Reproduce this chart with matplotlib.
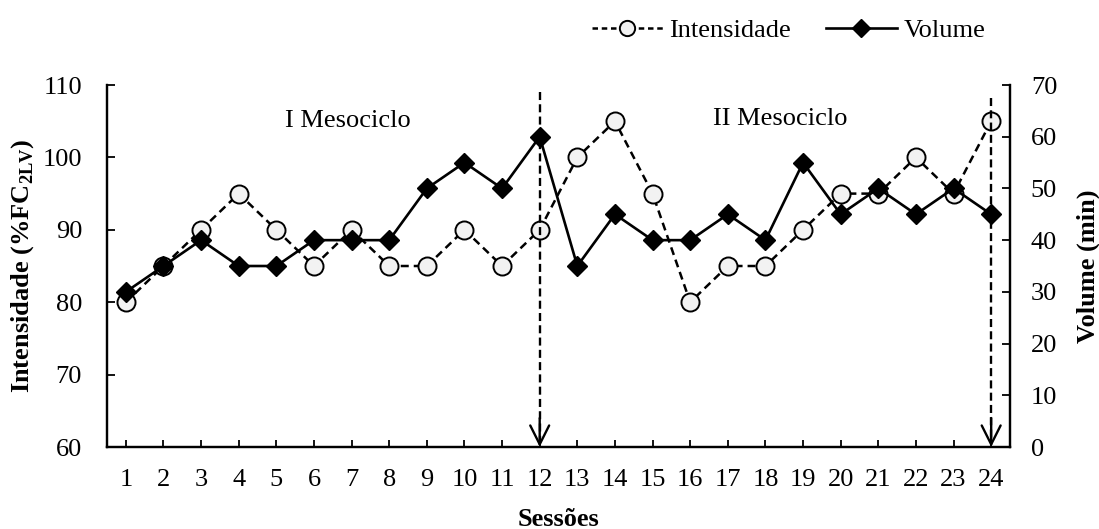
import matplotlib
matplotlib.use('Agg')
import matplotlib.pyplot as plt
from matplotlib.lines import Line2D

plt.rcParams['font.family'] = ['Liberation Serif', 'DejaVu Serif']
plt.rcParams['mathtext.fontset'] = 'custom'
plt.rcParams['mathtext.rm'] = 'Liberation Serif'
plt.rcParams['mathtext.bf'] = 'Liberation Serif:bold'

# Data
sessoes = list(range(1, 25))
intensidade = [80, 85, 90, 95, 90, 85, 90, 85, 85, 90, 85, 90,
               100, 105, 95, 80, 85, 85, 90, 95, 95, 100, 95, 105]
volume = [30, 35, 40, 35, 35, 40, 40, 40, 50, 55, 50, 60,
          35, 45, 40, 40, 45, 40, 55, 45, 50, 45, 50, 45]
fim_mesociclo = [12, 24]
topo_seta = [109.0, 108.2]
mesociclos = ['I Mesociclo', 'II Mesociclo']
pos_mesociclo = [(6.9, 105.0), (18.4, 105.3)]

FS = 19

fig = plt.figure(figsize=(10.99, 5.29), dpi=100)
ax = fig.add_axes([0.0974, 0.155, 0.8216, 0.6843])
ax2 = ax.twinx()

ax.plot(sessoes, intensidade, linestyle=(0, (3.2, 2)), color='black', lw=1.8,
        marker='o', ms=13, mfc='#f2f2f2', mec='black', mew=1.4, zorder=3)
ax2.plot(sessoes, volume, linestyle='-', color='black', lw=1.9,
         marker='D', ms=10, mfc='black', mec='black', zorder=3)

# dashed arrows marking the end of each mesocycle
for xs, top in zip(fim_mesociclo, topo_seta):
    ax.plot([xs, xs], [top, 60.5], color='black', lw=1.7,
            linestyle=(0, (3.4, 1.8)), zorder=4)
    ax.annotate('', xy=(xs, 60), xytext=(xs, 64),
                arrowprops=dict(arrowstyle='->', color='black', lw=1.7,
                                mutation_scale=34, shrinkA=0, shrinkB=0),
                zorder=4)

for txt, (tx, ty) in zip(mesociclos, pos_mesociclo):
    ax.text(tx, ty, txt, fontsize=FS, ha='center', va='center')

ax.set_xlim(0.5, 24.5)
ax.set_ylim(60, 110)
ax2.set_ylim(0, 70)
ax.set_xticks(sessoes)
ax.set_yticks(range(60, 111, 10))
ax2.set_yticks(range(0, 71, 10))

ax.tick_params(axis='y', direction='in', length=6, width=1.3,
               labelsize=FS, pad=18)
ax.tick_params(axis='x', direction='in', length=5, width=1.3,
               labelsize=FS, pad=16)
ax2.tick_params(axis='y', direction='in', length=6, width=1.3,
                labelsize=FS, pad=15)

for a in (ax, ax2):
    a.spines['top'].set_visible(False)
    for s in ('left', 'right', 'bottom'):
        a.spines[s].set_linewidth(1.6)

ax.set_xlabel('Sessões', fontsize=FS, fontweight='bold', labelpad=12)
ax.set_ylabel(r'Intensidade (%FC$_{\mathbf{2LV}}$)', fontsize=FS,
              fontweight='bold', labelpad=5)
ax2.set_ylabel('Volume (min)', fontsize=FS, fontweight='bold', labelpad=14)

handles = [
    Line2D([], [], linestyle=(0, (2.2, 1.5)), color='black', lw=1.8,
           marker='o', ms=11, mfc='#f2f2f2', mec='black', mew=1.4),
    Line2D([], [], linestyle='-', color='black', lw=1.9,
           marker='D', ms=9, mfc='black', mec='black'),
]
fig.legend(handles, ['Intensidade', 'Volume'], loc='center',
           bbox_to_anchor=(0.7175, 0.943), ncol=2, frameon=False,
           fontsize=FS, handlelength=2.7, handletextpad=0.25,
           columnspacing=1.3, borderaxespad=0)

fig.savefig('out.png', dpi=100)
